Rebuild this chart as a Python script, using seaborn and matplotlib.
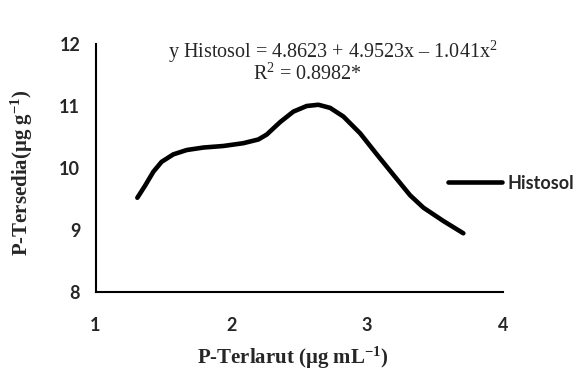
import numpy as np
import pandas as pd
import matplotlib
matplotlib.use("Agg")
import matplotlib.pyplot as plt
import seaborn as sns

# Data
p_terlarut = [1.308, 1.365, 1.426, 1.487, 1.573, 1.672, 1.794, 1.941, 2.088, 2.199,
              2.261, 2.359, 2.457, 2.555, 2.641, 2.727, 2.825, 2.948, 3.071, 3.193,
              3.316, 3.414, 3.561, 3.708]
p_tersedia = [9.52, 9.715, 9.94, 10.10, 10.22, 10.29, 10.33, 10.355, 10.40, 10.46,
              10.54, 10.74, 10.91, 11.00, 11.02, 10.97, 10.83, 10.56, 10.22, 9.89,
              9.56, 9.36, 9.145, 8.947]
series_name = "Histosol"
x_ticks = [1, 2, 3, 4]
y_ticks = [8, 9, 10, 11, 12]

df = pd.DataFrame({"x": p_terlarut, "y": p_tersedia, "s": series_name})

sns.set_style("white")
plt.rcParams["mathtext.fontset"] = "custom"
plt.rcParams["mathtext.rm"] = "Liberation Serif"
plt.rcParams["mathtext.it"] = "Liberation Serif:italic"
plt.rcParams["mathtext.bf"] = "Liberation Serif:bold"

W, H = 577, 378
fig = plt.figure(figsize=(W / 100, H / 100), dpi=100)
ax = fig.add_axes([95.5 / W, 1 - 292 / H, (503 - 95.5) / W, (292 - 44) / H])

sns.lineplot(data=df, x="x", y="y", hue="s", palette=["black"], ax=ax,
             linewidth=3.3, sort=False, legend=True)
for ln in ax.get_lines():
    ln.set_solid_joinstyle("round")

ax.set_xlim(1, 4)
ax.set_ylim(8, 12)
ax.set_xticks(x_ticks)
ax.set_yticks(y_ticks)
tick_font = dict(fontfamily="Lato", fontweight="bold", fontsize=13)
ax.set_xticklabels([str(t) for t in x_ticks], **tick_font)
ax.set_yticklabels([str(t) for t in y_ticks], **tick_font)
ax.tick_params(axis="both", direction="out", length=4, width=1.5, color="black")
ax.tick_params(axis="x", pad=14)
ax.tick_params(axis="y", pad=7)
for s in ["top", "right"]:
    ax.spines[s].set_visible(False)
for s in ["left", "bottom"]:
    ax.spines[s].set_linewidth(1.5)
    ax.spines[s].set_color("black")

ax.set_xlabel(r"P-Terlarut (μg mL$^{\mathregular{-1}}$)", fontfamily="Liberation Serif",
              fontweight="bold", fontsize=15)
ax.set_ylabel(r"P-Tersedia(μg g$^{\mathregular{-1}}$)", fontfamily="Liberation Serif",
              fontweight="bold", fontsize=15)
ax.xaxis.label.set_va("center")
ax.yaxis.label.set_va("center")
ax.xaxis.set_label_coords(0.485, (292 - 358) / 248)
ax.yaxis.set_label_coords((22 - 95.5) / 407.5, (292 - 173) / 248)

eq_font = dict(fontfamily="Liberation Serif", fontsize=14.5, ha="center", va="baseline")
fig.text(333 / W, 1 - 58 / H, r"y Histosol = 4.8623 + 4.9523x – 1.041x$^{\mathregular{2}}$", **eq_font)
fig.text(307 / W, 1 - 80 / H, r"R$^{\mathregular{2}}$ = 0.8982*", **eq_font)

leg_fs = 13
leg = ax.legend(loc="center left", bbox_to_anchor=(448 / W, 1 - 183 / H),
                bbox_transform=fig.transFigure, frameon=False,
                borderpad=0, borderaxespad=0,
                handlelength=54 / (leg_fs * 100 / 72), handletextpad=0.3,
                prop={"family": "Lato", "weight": "bold", "size": leg_fs})
for t in leg.get_texts():
    t.set_text(series_name)
for l in leg.get_lines():
    l.set_linewidth(3.3)

fig.savefig("out.png", dpi=100)
